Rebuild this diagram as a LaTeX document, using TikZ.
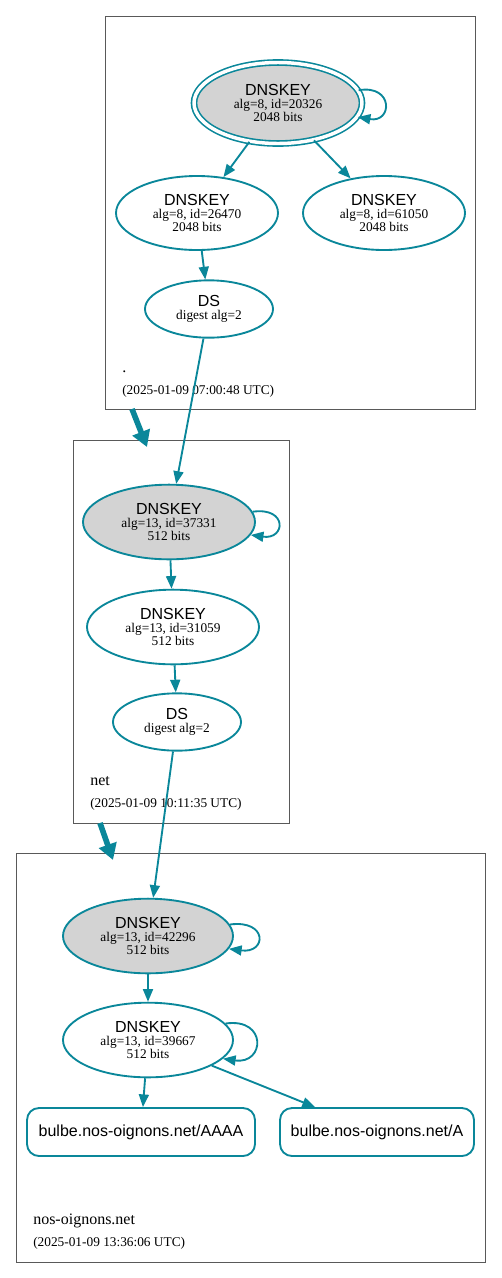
\documentclass[tikz,border=0pt]{standalone}
\usepackage{fontspec}
\setmainfont{Liberation Serif}
\setsansfont{Liberation Sans}
\usetikzlibrary{shapes.geometric,arrows.meta}
\definecolor{dnsteal}{HTML}{0A879A}
\definecolor{keygray}{HTML}{D3D3D3}
\definecolor{zonegray}{HTML}{595959}
\begin{document}
\begin{tikzpicture}[x=0.75pt,y=-0.75pt,
    zone/.style={draw=zonegray,line width=0.6pt,inner sep=0pt},
    key/.style={ellipse,draw=dnsteal,line width=1.4pt,inner sep=0pt,align=center,
        minimum width=121.5pt,minimum height=55.5pt,font=\fontsize{10}{9.5}\selectfont},
    ksk/.style={key,fill=keygray},
    ds/.style={key,minimum width=96pt,minimum height=43pt},
    rrset/.style={draw=dnsteal,line width=1.4pt,rounded corners=9pt,minimum height=36pt,
        font=\sffamily\fontsize{12}{14}\selectfont},
    sig/.style={draw=dnsteal,line width=1.4pt,-{Triangle[length=9.5pt,width=7.5pt]}},
    zonelink/.style={draw=dnsteal,line width=4.2pt,-{Triangle[length=12pt,width=13.5pt]}},
    zonename/.style={anchor=base west,inner sep=0pt,font=\fontsize{12}{14}\selectfont},
    stamp/.style={anchor=base west,inner sep=0pt,font=\fontsize{10}{12}\selectfont}]
    \useasboundingbox (0,0) rectangle (501,1278);
    % zones
    \node [zone,minimum width=277.5pt,minimum height=294.75pt] (rootzone) at (290,212.5) {};
    \node [zone,minimum width=162pt,minimum height=287.25pt] (netzone) at (181,631.5) {};
    \node [zone,minimum width=351.75pt,minimum height=306.75pt] (noszone) at (250.5,1057.5) {};
    \node [zonename] (rootname) at (122,372) {.};
    \node [stamp] (rootstamp) at (122,394) {(2025-01-09 07:00:48 UTC)};
    \node [zonename] (netname) at (90,785) {net};
    \node [stamp] (netstamp) at (90,807) {(2025-01-09 10:11:35 UTC)};
    \node [zonename] (nosname) at (33,1224) {nos-oignons.net};
    \node [stamp] (nosstamp) at (33,1246) {(2025-01-09 13:36:06 UTC)};
    % root
    \node [ksk,double=white,double distance=2.6pt,line width=1.2pt,
        minimum width=126pt,minimum height=60.75pt] (rootksk) at (278,103)
        {{\sffamily\fontsize{12}{12}\selectfont DNSKEY}\\alg=8, id=20326\\2048 bits};
    \node [key] (rootzsk) at (197,213)
        {{\sffamily\fontsize{12}{12}\selectfont DNSKEY}\\alg=8, id=26470\\2048 bits};
    \node [key] (rootnew) at (384,213)
        {{\sffamily\fontsize{12}{12}\selectfont DNSKEY}\\alg=8, id=61050\\2048 bits};
    \node [ds] (netds) at (209,309)
        {{\sffamily\fontsize{12}{12}\selectfont DS}\\digest alg=2};
    % net
    \node [ksk,minimum width=129pt,minimum height=56pt] (netksk) at (169,522)
        {{\sffamily\fontsize{12}{12}\selectfont DNSKEY}\\alg=13, id=37331\\512 bits};
    \node [key,minimum width=129pt,minimum height=56pt] (netzsk) at (173,627)
        {{\sffamily\fontsize{12}{12}\selectfont DNSKEY}\\alg=13, id=31059\\512 bits};
    \node [ds] (nosds) at (177,722)
        {{\sffamily\fontsize{12}{12}\selectfont DS}\\digest alg=2};
    % nos-oignons.net
    \node [ksk,minimum width=127.5pt,minimum height=56pt] (nosksk) at (148,936)
        {{\sffamily\fontsize{12}{12}\selectfont DNSKEY}\\alg=13, id=42296\\512 bits};
    \node [key,minimum width=127.5pt,minimum height=56pt] (noszsk) at (148,1040)
        {{\sffamily\fontsize{12}{12}\selectfont DNSKEY}\\alg=13, id=39667\\512 bits};
    \node [rrset,minimum width=171pt] (aaaa) at (141,1132) {bulbe.nos-oignons.net/AAAA};
    \node [rrset,minimum width=145.5pt] (arec) at (377,1132) {bulbe.nos-oignons.net/A};
    % delegations
    \coordinate (rootexit) at (132,409);
    \coordinate (netentry) at (147,447);
    \coordinate (netexit) at (100,823);
    \coordinate (nosentry) at (113,860);
    \draw [zonelink] (rootexit) -- (netentry);
    \draw [zonelink] (netexit) -- (nosentry);
    % signatures
    \draw [sig] (rootksk.9) .. controls +(35,-6) and +(35,6) .. (rootksk.-10);
    \draw [sig] (rootksk) -- (rootzsk);
    \draw [sig] (rootksk) -- (rootnew);
    \draw [sig] (rootzsk) -- (netds);
    \draw [sig] (netds) -- (netksk);
    \draw [sig] (netksk.7) .. controls +(35,-5) and +(35,5) .. (netksk.-9);
    \draw [sig] (netksk) -- (netzsk);
    \draw [sig] (netzsk) -- (nosds);
    \draw [sig] (nosds) -- (nosksk);
    \draw [sig] (nosksk.8) .. controls +(38,-5) and +(38,5) .. (nosksk.-9);
    \draw [sig] (nosksk) -- (noszsk);
    \draw [sig] (noszsk.12) .. controls +(42,-6) and +(42,6) .. (noszsk.-14);
    \draw [sig] (noszsk) -- (aaaa);
    \draw [sig] (noszsk) -- (arec);
\end{tikzpicture}
\end{document}
